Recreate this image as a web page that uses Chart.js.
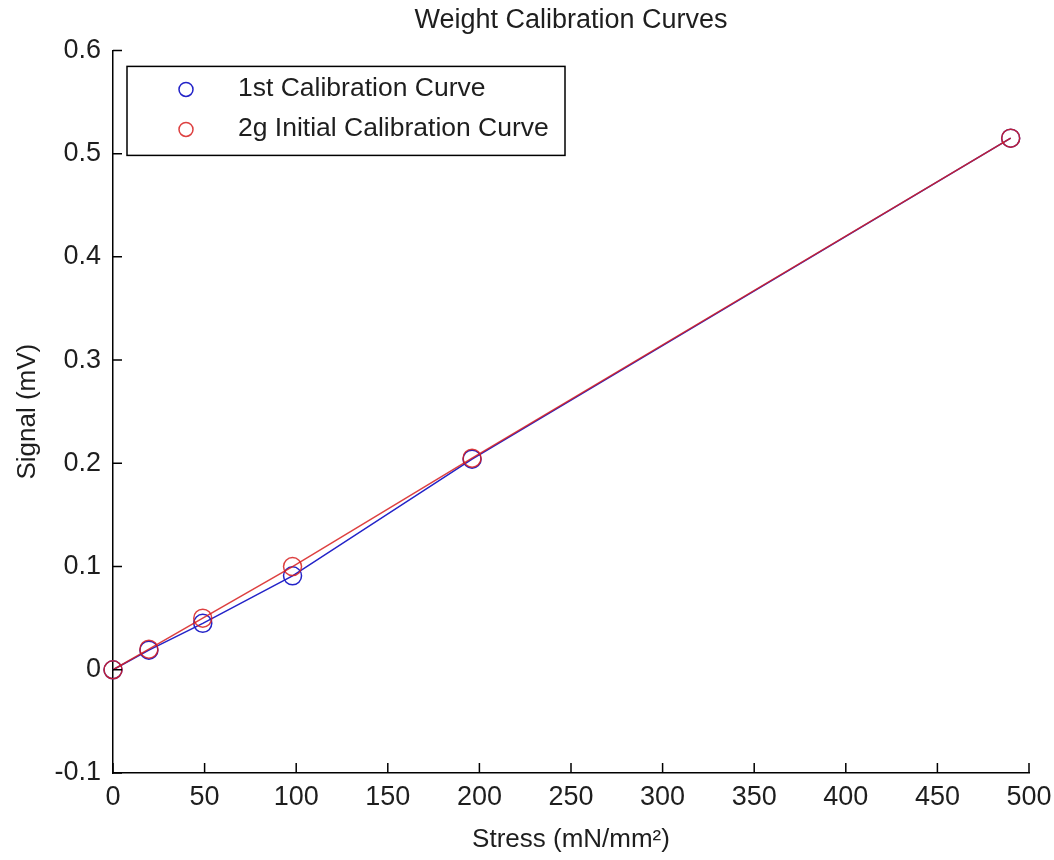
<!DOCTYPE html>
<html>
<head>
<meta charset="utf-8">
<title>Weight Calibration Curves</title>
<script src="https://cdn.jsdelivr.net/npm/chart.js@4/dist/chart.umd.min.js"></script>
<style>
  html, body { margin: 0; padding: 0; background: #fff; }
  canvas { display: block; }
</style>
</head>
<body>
<canvas id="myChart" width="1054" height="860"></canvas>
<script>
// stress values (mN/mm^2) for each weight
const stress = [0, 19.6, 49, 98, 196, 490];
// signal readings (mV)
const firstCurve = [0, 0.019, 0.045, 0.091, 0.204, 0.515];
const initialCurve = [0, 0.020, 0.050, 0.100, 0.205, 0.515];
const seriesNames = ['1st Calibration Curve', '2g Initial Calibration Curve'];
// axis ticks
const xTicks = [0, 50, 100, 150, 200, 250, 300, 350, 400, 450, 500];
const yTicks = [-0.1, 0, 0.1, 0.2, 0.3, 0.4, 0.5, 0.6];

const FONT = "'Liberation Sans', Arial, sans-serif";
const TEXT = '#1e1e1e';
const BLUE = 'rgb(35,35,200)';
const RED = 'rgba(215,30,30,0.85)';

function pts(ys) {
    return stress.map(function (x, i) { return { x: x, y: ys[i] }; });
}

function fmt(v) {
    if (Math.abs(v) < 1e-9) return '0';
    return String(Number(v.toFixed(1)));
}

// ticks pointing into the plot, like the original
const innerTicks = {
    id: 'innerTicks',
    afterDraw: function (chart) {
        const ctx = chart.ctx;
        const area = chart.chartArea;
        const xs = chart.scales.x, ys = chart.scales.y;
        ctx.save();
        ctx.strokeStyle = '#000';
        ctx.lineWidth = 1.5;
        ctx.beginPath();
        xTicks.forEach(function (t) {
            const px = xs.getPixelForValue(t);
            ctx.moveTo(px, area.bottom);
            ctx.lineTo(px, area.bottom - 10);
        });
        yTicks.forEach(function (t) {
            const py = ys.getPixelForValue(t);
            ctx.moveTo(area.left, py);
            ctx.lineTo(area.left + 9, py);
        });
        ctx.stroke();
        ctx.restore();
    }
};

// legend box inside the upper left corner
const boxLegend = {
    id: 'boxLegend',
    afterDraw: function (chart) {
        const ctx = chart.ctx;
        const area = chart.chartArea;
        const left = area.left + 14, top = area.top + 16;
        const w = 438, h = 89;
        ctx.save();
        ctx.fillStyle = '#fff';
        ctx.fillRect(left, top, w, h);
        ctx.strokeStyle = '#000';
        ctx.lineWidth = 1.5;
        ctx.strokeRect(left, top, w, h);
        ctx.font = '26.5px ' + FONT;
        ctx.textBaseline = 'middle';
        ctx.fillStyle = TEXT;
        chart.data.datasets.forEach(function (ds, i) {
            const cy = top + 22 + i * 40;
            ctx.beginPath();
            ctx.arc(left + 59, cy + 1, 7, 0, Math.PI * 2);
            ctx.strokeStyle = ds.borderColor;
            ctx.lineWidth = 1.5;
            ctx.stroke();
            ctx.fillText(ds.label, left + 111, cy);
        });
        ctx.restore();
    }
};

const ctx = document.getElementById('myChart').getContext('2d');

new Chart(ctx, {
    type: 'line',
    data: {
        datasets: [{
            label: seriesNames[0],
            data: pts(firstCurve),
            borderColor: BLUE,
            borderWidth: 1.5,
            pointStyle: 'circle',
            pointRadius: 9,
            pointBorderWidth: 1.5,
            pointBackgroundColor: 'rgba(0,0,0,0)',
            pointBorderColor: BLUE,
            fill: false,
            order: 2
        }, {
            label: seriesNames[1],
            data: pts(initialCurve),
            borderColor: RED,
            borderWidth: 1.5,
            pointStyle: 'circle',
            pointRadius: 9,
            pointBorderWidth: 1.5,
            pointBackgroundColor: 'rgba(0,0,0,0)',
            pointBorderColor: RED,
            fill: false,
            order: 1
        }]
    },
    options: {
        responsive: false,
        animation: false,
        clip: false,
        layout: { padding: { left: 0, right: 25, top: 0, bottom: 0 } },
        plugins: {
            legend: { display: false },
            tooltip: { enabled: false },
            title: {
                display: true,
                fullSize: false,
                text: 'Weight Calibration Curves',
                color: TEXT,
                font: { family: FONT, size: 27, weight: 'normal' },
                padding: { top: 4, bottom: 14 }
            }
        },
        scales: {
            x: {
                type: 'linear',
                min: 0,
                max: 500,
                afterBuildTicks: function (s) { s.ticks = xTicks.map(function (v) { return { value: v }; }); },
                afterFit: function (s) {
                    s.height = 87;
                    s.paddingLeft = 0;
                    s.paddingRight = 0;
                },
                grid: { display: false, drawTicks: false },
                border: { display: true, color: '#000', width: 1.5 },
                ticks: {
                    color: TEXT,
                    padding: 8,
                    maxRotation: 0,
                    autoSkip: false,
                    font: { family: FONT, size: 27 },
                    callback: fmt
                },
                title: {
                    display: true,
                    text: 'Stress (mN/mm²)',
                    color: TEXT,
                    font: { family: FONT, size: 26 },
                    padding: { top: 0, bottom: 5 }
                }
            },
            y: {
                type: 'linear',
                min: -0.1,
                max: 0.6,
                afterBuildTicks: function (s) { s.ticks = yTicks.map(function (v) { return { value: v }; }); },
                afterFit: function (s) { s.width = 113; },
                grid: { display: false, drawTicks: false },
                border: { display: true, color: '#000', width: 1.5 },
                ticks: {
                    color: TEXT,
                    padding: 12,
                    autoSkip: false,
                    font: { family: FONT, size: 27 },
                    callback: fmt
                },
                title: {
                    display: true,
                    text: 'Signal (mV)',
                    color: TEXT,
                    font: { family: FONT, size: 26 },
                    padding: { top: 12, bottom: 0 }
                }
            }
        }
    },
    plugins: [innerTicks, boxLegend]
});
</script>
</body>
</html>
